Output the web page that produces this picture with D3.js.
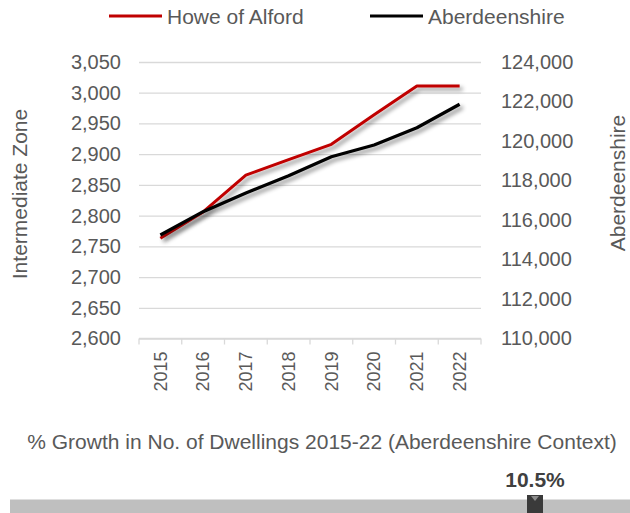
<!DOCTYPE html>
<html>
<head>
<meta charset="utf-8">
<script src="https://cdn.jsdelivr.net/npm/d3@7"></script>
<style>
  body { margin: 0; background: #fff; }
  svg { display: block; font-family: "Liberation Sans", Arial, sans-serif; }
</style>
</head>
<body>
<svg id="chart" width="630" height="513"></svg>
<script>
// chart values
const years = [2015, 2016, 2017, 2018, 2019, 2020, 2021, 2022];
const howeOfAlford = [2763, 2806, 2866, 2891, 2916, 2964, 3011, 3011];
const aberdeenshire = [115240, 116420, 117370, 118240, 119200, 119800, 120670, 121860];
const leftTicks = [2600, 2650, 2700, 2750, 2800, 2850, 2900, 2950, 3000, 3050];
const rightTicks = [110000, 112000, 114000, 116000, 118000, 120000, 122000, 124000];
const seriesNames = ["Howe of Alford", "Aberdeenshire"];
const growthLabel = "% Growth in No. of Dwellings 2015-22 (Aberdeenshire Context)";
const growthValue = 10.5;
const growthRange = [0, 12.4];

const width = 630, height = 513;
const plot = { left: 139, right: 481, top: 62, bottom: 338.5 };
const textColor = "#595959", gridColor = "#d9d9d9";
const red = "#c00000", black = "#000000";

const svg = d3.select("#chart");

const defs = svg.append("defs");
const shadow = defs.append("filter")
	.attr("id", "shadow")
	.attr("x", "-10%").attr("y", "-20%")
	.attr("width", "130%").attr("height", "150%");
shadow.append("feDropShadow")
	.attr("dx", 3).attr("dy", 3)
	.attr("stdDeviation", 2)
	.attr("flood-color", "#000")
	.attr("flood-opacity", 0.45);

const x = d3.scaleBand().domain(years).range([plot.left, plot.right]);
const yLeft = d3.scaleLinear().domain([2600, 3050]).range([plot.bottom, plot.top]);
const yRight = d3.scaleLinear().domain([110000, 124000]).range([plot.bottom, plot.top]);

// gridlines
svg.append("g")
	.attr("transform", `translate(${plot.left},0)`)
	.call(d3.axisLeft(yLeft).tickValues(leftTicks).tickSize(-(plot.right - plot.left)).tickFormat(""))
	.call(g => g.select(".domain").remove())
	.call(g => g.selectAll(".tick line").attr("stroke", gridColor).attr("stroke-width", 1.3));

// left tick labels
svg.append("g")
	.attr("transform", `translate(${plot.left},0)`)
	.call(d3.axisLeft(yLeft).tickValues(leftTicks).tickSize(0).tickPadding(18).tickFormat(d3.format(",")))
	.call(g => g.select(".domain").remove())
	.call(g => g.selectAll("text")
		.attr("fill", textColor)
		.attr("font-size", 20)
		.attr("font-family", "Liberation Sans, Arial, sans-serif"));

// right tick labels
svg.append("g")
	.attr("transform", `translate(${plot.right},0)`)
	.call(d3.axisRight(yRight).tickValues(rightTicks).tickSize(0).tickPadding(20).tickFormat(d3.format(",")))
	.call(g => g.select(".domain").remove())
	.call(g => g.selectAll("text")
		.attr("fill", textColor)
		.attr("font-size", 20)
		.attr("font-family", "Liberation Sans, Arial, sans-serif"));

// x axis with ticks at category boundaries
const xAxis = svg.append("g").attr("transform", `translate(0,${plot.bottom})`);
xAxis.append("line")
	.attr("x1", plot.left).attr("x2", plot.right)
	.attr("stroke", gridColor).attr("stroke-width", 1.3);
xAxis.selectAll("line.tk")
	.data(years.concat(["end"]))
	.join("line")
	.attr("class", "tk")
	.attr("x1", (d, i) => plot.left + i * x.step())
	.attr("x2", (d, i) => plot.left + i * x.step())
	.attr("y1", 0).attr("y2", 6)
	.attr("stroke", gridColor).attr("stroke-width", 1.3);
xAxis.selectAll("text")
	.data(years)
	.join("text")
	.attr("transform", d => `translate(${x(d) + x.bandwidth() / 2},13) rotate(-90)`)
	.attr("text-anchor", "end")
	.attr("dy", "0.35em")
	.attr("fill", textColor)
	.attr("font-size", 18)
	.text(d => d);

// axis titles
svg.append("text")
	.attr("transform", "translate(27,194) rotate(-90)")
	.attr("text-anchor", "middle")
	.attr("fill", textColor)
	.attr("font-size", 21)
	.text("Intermediate Zone");

svg.append("text")
	.attr("transform", "translate(625,183) rotate(-90)")
	.attr("text-anchor", "middle")
	.attr("fill", textColor)
	.attr("font-size", 21)
	.text("Aberdeenshire");

// lines
const cx = d => x(d) + x.bandwidth() / 2;
const lineLeft = d3.line().x((d, i) => cx(years[i])).y(d => yLeft(d));
const lineRight = d3.line().x((d, i) => cx(years[i])).y(d => yRight(d));

svg.append("path")
	.datum(howeOfAlford)
	.attr("d", lineLeft)
	.attr("fill", "none")
	.attr("stroke", red)
	.attr("stroke-width", 3)
	.attr("stroke-linejoin", "round")
	.attr("filter", "url(#shadow)");

svg.append("path")
	.datum(aberdeenshire)
	.attr("d", lineRight)
	.attr("fill", "none")
	.attr("stroke", black)
	.attr("stroke-width", 3.2)
	.attr("stroke-linejoin", "round")
	.attr("filter", "url(#shadow)");

// legend
const legendItems = [
	{ name: seriesNames[0], color: red, x: 109 },
	{ name: seriesNames[1], color: black, x: 370 }
];
const legend = svg.append("g").selectAll("g")
	.data(legendItems)
	.join("g")
	.attr("transform", d => `translate(${d.x},16)`);
legend.append("line")
	.attr("x1", 0).attr("x2", 53)
	.attr("stroke", d => d.color)
	.attr("stroke-width", 3);
legend.append("text")
	.attr("x", 58)
	.attr("y", 7.5)
	.attr("fill", textColor)
	.attr("font-size", 21)
	.text(d => d.name);

// growth context strip
svg.append("text")
	.attr("x", 322)
	.attr("y", 449)
	.attr("text-anchor", "middle")
	.attr("fill", textColor)
	.attr("font-size", 21)
	.text(growthLabel);

const g = d3.scaleLinear().domain(growthRange).range([10, 630]);

svg.append("rect")
	.attr("x", g(growthRange[0]))
	.attr("y", 499.5)
	.attr("width", g(growthRange[1]) - g(growthRange[0]))
	.attr("height", height - 499.5)
	.attr("fill", "#bfbfbf");

const marker = svg.append("g").attr("transform", `translate(${g(growthValue)},0)`);
marker.append("rect")
	.attr("x", -8).attr("y", 495)
	.attr("width", 16).attr("height", 18)
	.attr("fill", "#3a3a3a");
marker.append("path")
	.attr("d", "M-4,496L4,496L0,501Z")
	.attr("fill", "#8c8c8c");

svg.append("text")
	.attr("x", g(growthValue))
	.attr("y", 487)
	.attr("text-anchor", "middle")
	.attr("fill", "#404040")
	.attr("font-size", 21)
	.attr("font-weight", "bold")
	.text(d3.format(".1f")(growthValue) + "%");
</script>
</body>
</html>
